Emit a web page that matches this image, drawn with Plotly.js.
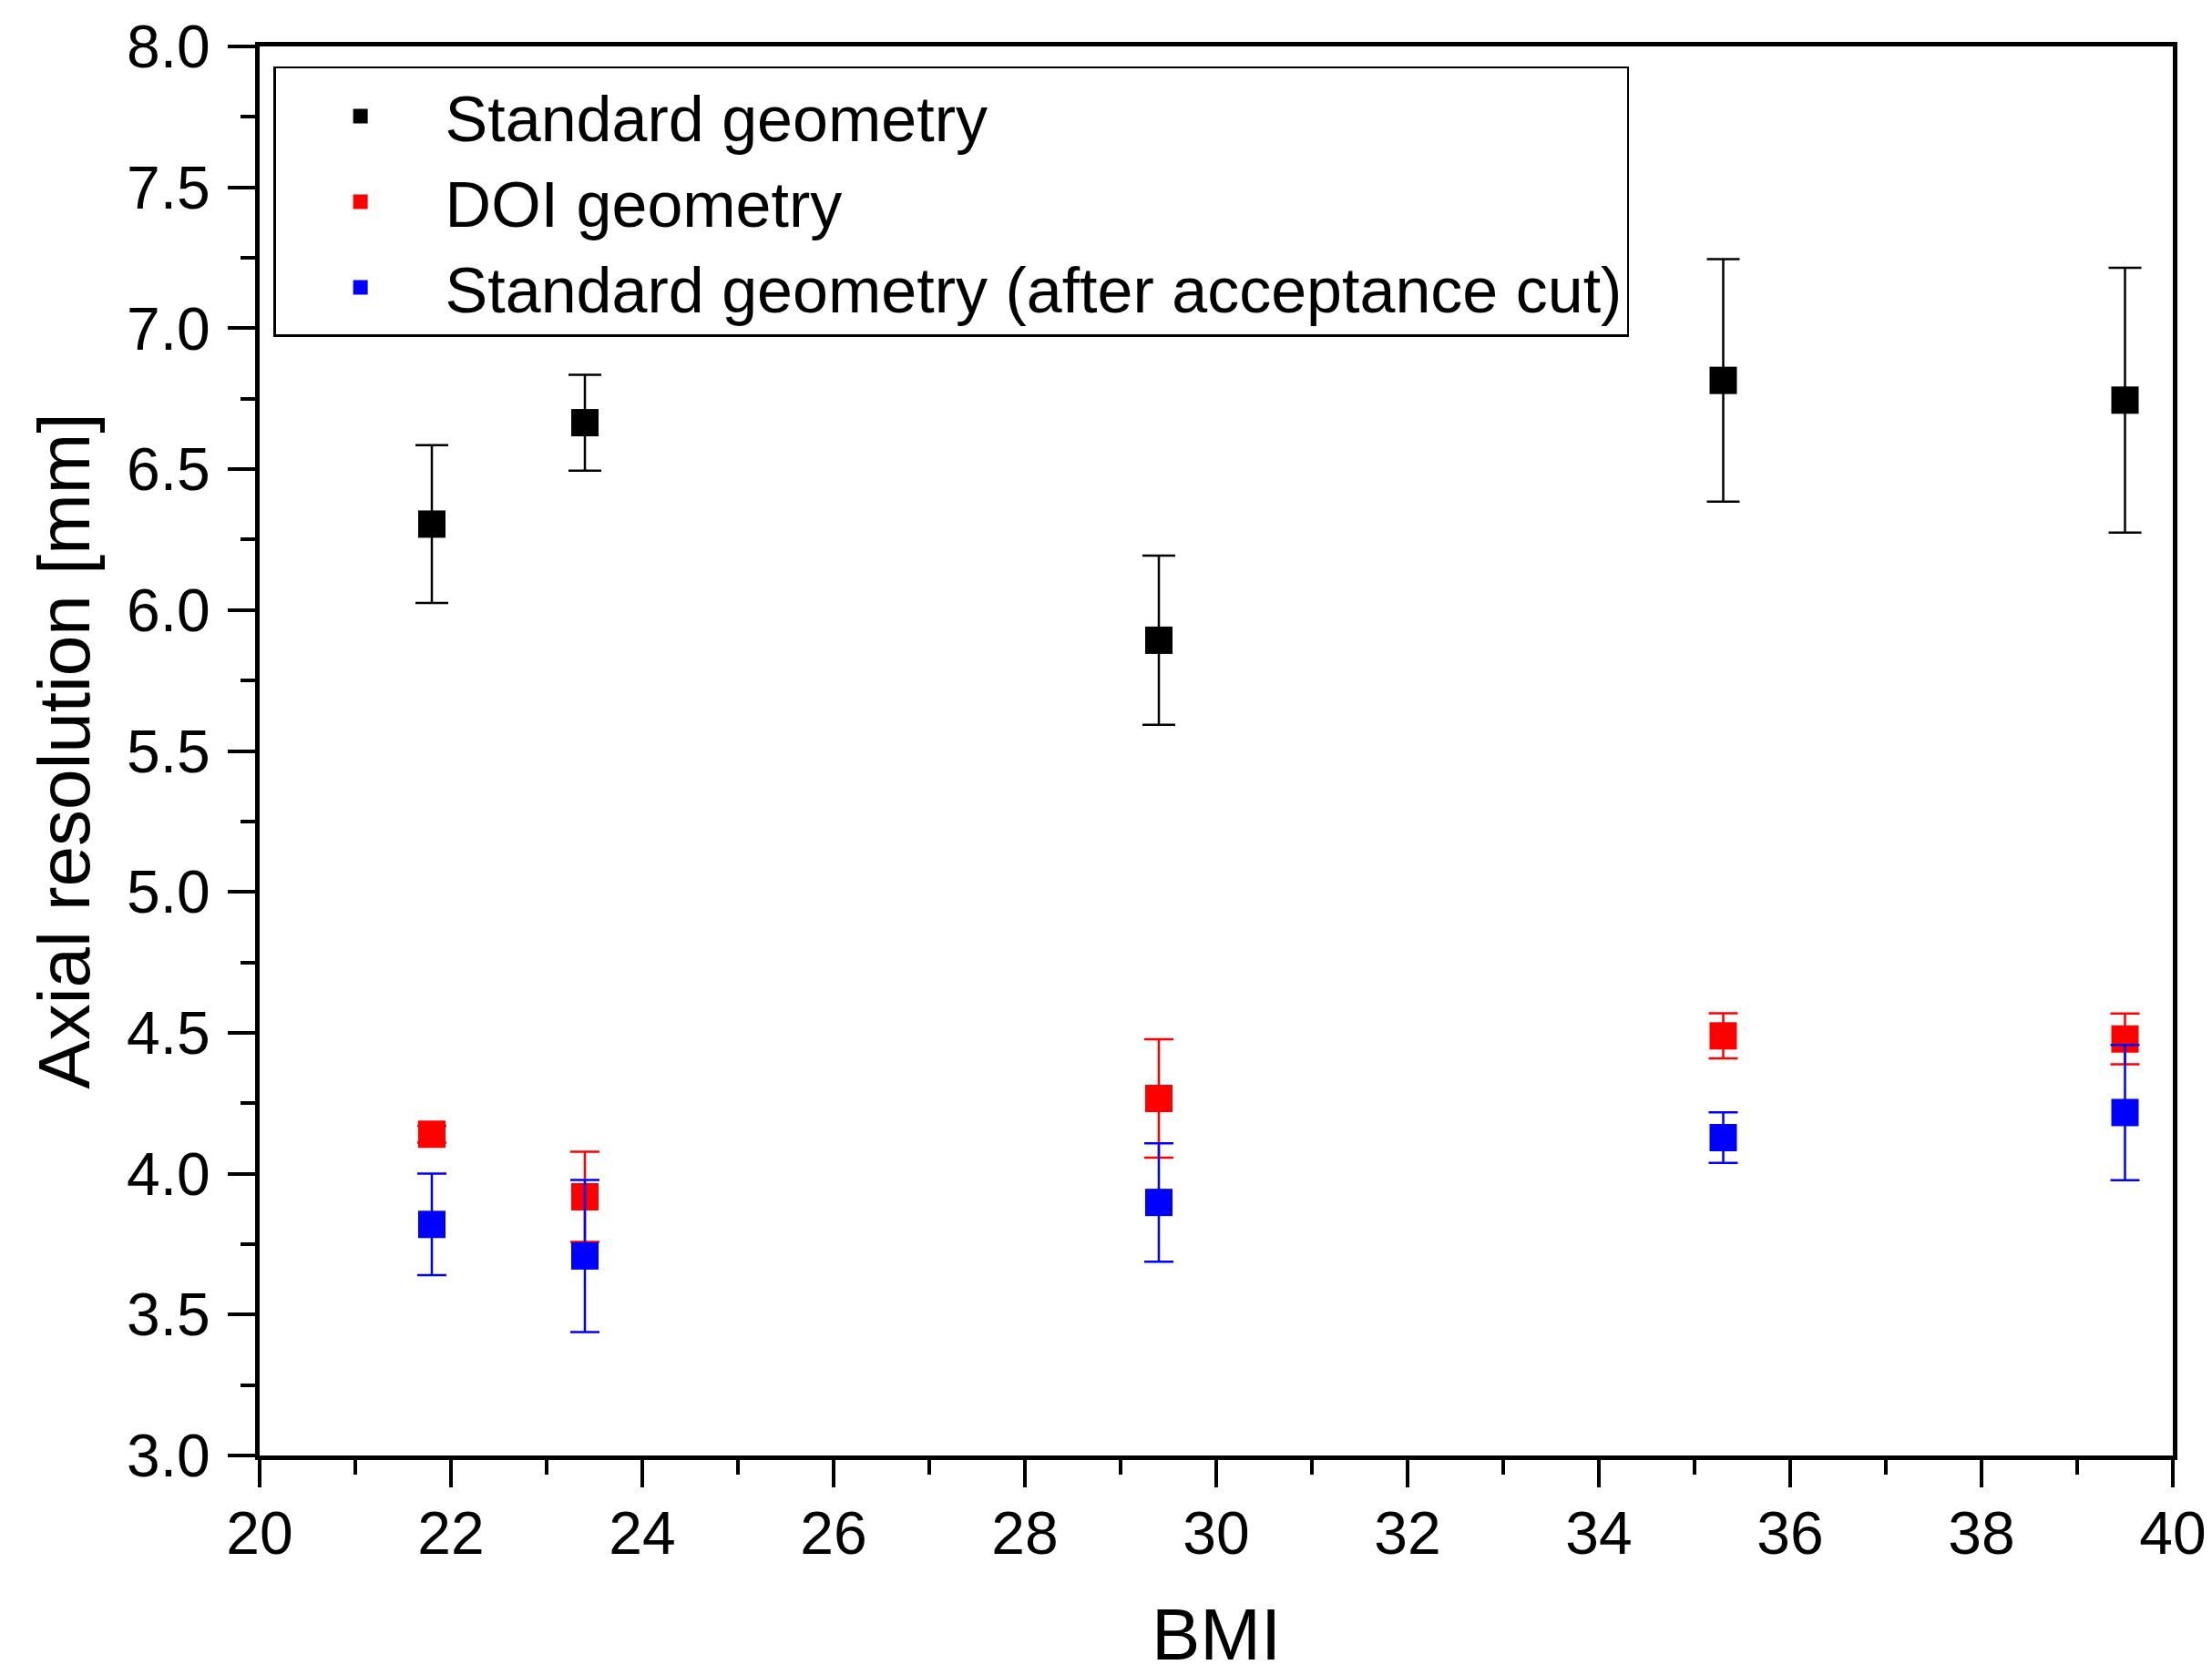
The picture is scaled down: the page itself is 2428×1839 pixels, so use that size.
<!DOCTYPE html>
<html><head><meta charset="utf-8">
<script src="https://cdn.plot.ly/plotly-3.0.1.min.js"></script>
<style>html,body{margin:0;padding:0;background:#fff}#chart{width:2428px;height:1839px}</style>
</head><body><div id="chart"></div>
<script>
const bmi = [21.8, 23.4, 29.4, 35.3, 39.5];
const standardRes = [6.305, 6.665, 5.893, 6.815, 6.745];
const standardErr = [0.28, 0.17, 0.30, 0.43, 0.47];
const doiRes = [4.14, 3.918, 4.267, 4.489, 4.478];
const doiErr = [0.03, 0.16, 0.21, 0.08, 0.09];
const cutRes = [3.82, 3.708, 3.898, 4.128, 4.217];
const cutErr = [0.18, 0.27, 0.21, 0.09, 0.24];
const seriesNames = ['Standard geometry', 'DOI geometry', 'Standard geometry (after acceptance cut)'];
const xTitle = 'BMI';
const yTitle = 'Axial resolution [mm]';

const FONT = 'Liberation Sans, Arial, sans-serif';
function mk(y, err, name, color, capw) {
  return {
    x: bmi, y: y, name: name, type: 'scatter', mode: 'markers',
    marker: {symbol: 'square', size: 30, color: color, line: {width: 0}},
    error_y: {type: 'data', array: err, visible: true, color: color, thickness: 2.5, width: capw},
    cliponaxis: false
  };
}
const data = [
  mk(standardRes, standardErr, seriesNames[0], '#000000', 18),
  mk(doiRes, doiErr, seriesNames[1], '#ff0000', 16),
  mk(cutRes, cutErr, seriesNames[2], '#0000ff', 16)
];
const axisCommon = {
  showgrid: false, zeroline: false, showline: true, linecolor: '#000', linewidth: 5, mirror: true,
  ticks: 'outside', ticklen: 30, tickwidth: 4, tickcolor: '#000',
  tickfont: {family: FONT, size: 66, color: '#000'}
};
const layout = {
  width: 2428, height: 1839,
  paper_bgcolor: '#fff', plot_bgcolor: '#fff',
  margin: {l: 285, r: 43, t: 51, b: 241},
  font: {family: FONT, color: '#000'},
  showlegend: true,
  xaxis: Object.assign({}, axisCommon, {
    range: [20, 40], tick0: 20, dtick: 2, ticklabelstandoff: -6,
    minor: {dtick: 1, ticks: 'outside', ticklen: 16, tickwidth: 4, tickcolor: '#000'},
    title: {text: xTitle, font: {family: FONT, size: 80, color: '#000'}, standoff: 62}
  }),
  yaxis: Object.assign({}, axisCommon, {
    range: [3, 8], tick0: 3, dtick: 0.5, tickformat: '.1f', ticklabelstandoff: 6,
    minor: {dtick: 0.25, ticks: 'outside', ticklen: 16, tickwidth: 4, tickcolor: '#000'},
    title: {text: yTitle, font: {family: FONT, size: 80, color: '#000'}, standoff: 16}
  }),
  legend: {
    x: 0.0072, y: 0.9858, xanchor: 'left', yanchor: 'top',
    bgcolor: '#fff', bordercolor: '#000', borderwidth: 2.5,
    font: {family: FONT, size: 70, color: '#000'},
    itemwidth: 176, tracegroupgap: 0
  }
};
Plotly.newPlot('chart', data, layout, {displayModeBar: false, staticPlot: true});
</script></body></html>
